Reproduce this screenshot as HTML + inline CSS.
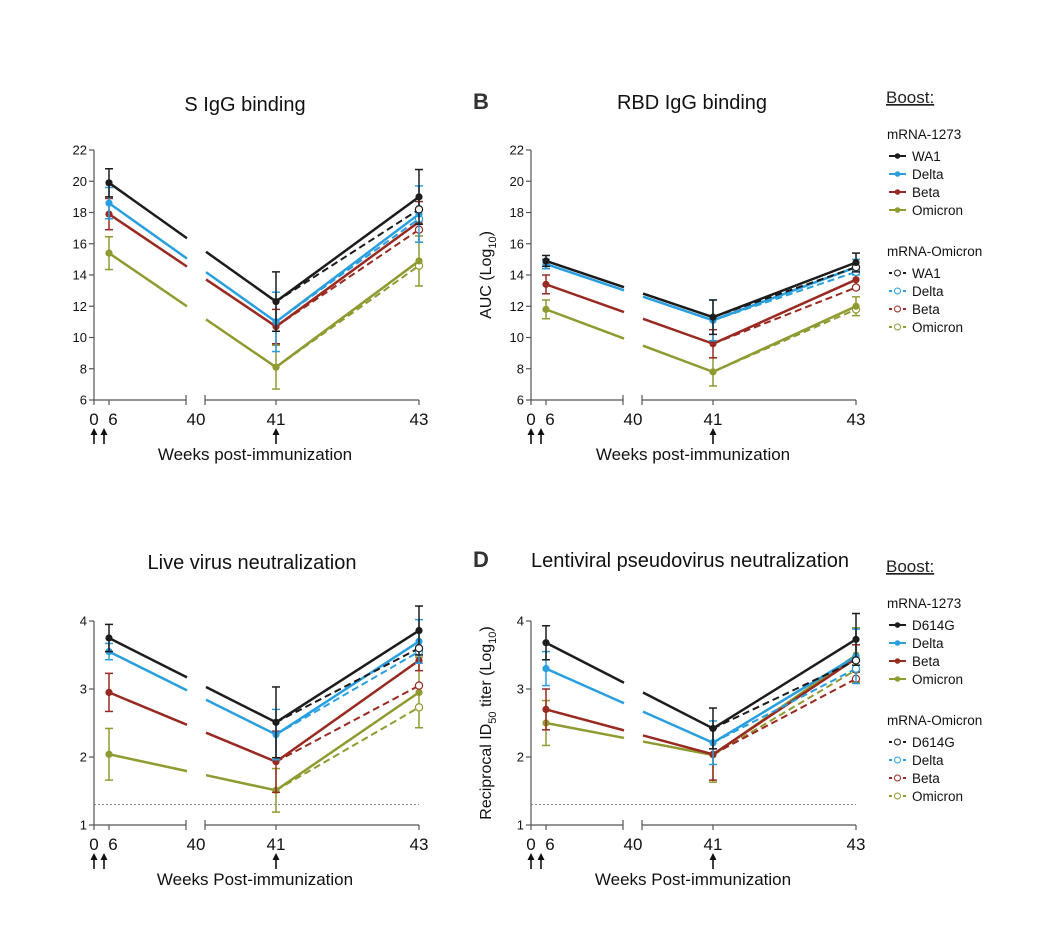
<!DOCTYPE html>
<html><head><meta charset="utf-8">
<style>
body{margin:0;background:#fff;}
svg{display:block;font-family:"Liberation Sans",Arial,sans-serif;}
</style></head>
<body>
<svg id="fig" width="1060" height="942" viewBox="0 0 1060 942"></svg>
<script>
// ---- data ----
const weeks = [6, 41, 43];
const strainsTop = ["WA1", "Delta", "Beta", "Omicron"];
const strainsBottom = ["D614G", "Delta", "Beta", "Omicron"];
const colors = ["#1c1c1c", "#2a9fe0", "#992a22", "#8f9a30"];

// Panel A: S IgG binding
const aWk6 = [19.9, 18.6, 17.9, 15.4];
const aWk41 = [12.3, 11.0, 10.7, 8.1];
const aWk43Solid = [19.0, 17.9, 17.4, 14.9];
const aWk43Dash = [18.2, 17.6, 16.9, 14.6];
const aErr6 = [0.9, 1.0, 1.0, 1.05];
const aErr41 = [1.9, 1.9, 1.1, 1.4];
const aErr43 = [1.75, 1.8, 1.3, 1.6];
// Panel B: RBD IgG binding
const bWk6 = [14.9, 14.7, 13.4, 11.8];
const bWk41 = [11.3, 11.1, 9.6, 7.8];
const bWk43Solid = [14.8, 14.5, 13.7, 12.0];
const bWk43Dash = [14.5, 14.2, 13.2, 11.8];
const bErr6 = [0.35, 0.3, 0.6, 0.6];
const bErr41 = [1.1, 1.3, 0.9, 0.9];
const bErr43 = [0.6, 0.5, 0.6, 0.6];
// Panel C: live virus neutralization
const cWk6 = [3.75, 3.55, 2.95, 2.04];
const cWk41 = [2.51, 2.33, 1.93, 1.51];
const cWk43Solid = [3.86, 3.7, 3.42, 2.95];
const cWk43Dash = [3.6, 3.55, 3.05, 2.73];
const cErr6 = [0.2, 0.12, 0.28, 0.38];
const cErr41 = [0.52, 0.37, 0.45, 0.32];
const cErr43 = [0.36, 0.32, 0.15, 0.52];
// Panel D: lentiviral pseudovirus neutralization
const dWk6 = [3.68, 3.3, 2.7, 2.5];
const dWk41 = [2.42, 2.21, 2.04, 2.03];
const dWk43Solid = [3.73, 3.48, 3.45, 3.5];
const dWk43Dash = [3.42, 3.3, 3.15, 3.28];
const dErr6 = [0.25, 0.25, 0.3, 0.33];
const dErr41 = [0.3, 0.32, 0.38, 0.4];
const dErr43 = [0.38, 0.4, 0.2, 0.4];
const yTicksAB = [6, 8, 10, 12, 14, 16, 18, 20, 22];
const yTicksCD = [1, 2, 3, 4];
const xTickLabels = ["0", "6", "40", "41", "43"];
const lodCD = 1.3;

const NS = "http://www.w3.org/2000/svg";
const svg = document.getElementById("fig");
function mk(tag, attrs, parent, text) {
  const e = document.createElementNS(NS, tag);
  for (const k in attrs) e.setAttribute(k, attrs[k]);
  if (text !== undefined) e.textContent = text;
  (parent || svg).appendChild(e);
  return e;
}

function panel(opt) {
  const g = mk("g", {});
  
  
  const x0 = opt.x0, yTop = opt.yTop, yBot = opt.yBot;
  const yMin = opt.ticks[0], yMax = opt.ticks[opt.ticks.length - 1];
  const ys = v => yBot - (v - yMin) / (yMax - yMin) * (yBot - yTop);
  const pos = {0: x0, 6: x0 + 15, 40: x0 + 92, 40.5: x0 + 111, 41: x0 + 182, 43: x0 + 325};
  const xs = w => pos[w];
  const ax = mk("g", {stroke: "#555", "stroke-width": 1.2, fill: "none"}, g);
  
  
  mk("line", {x1: x0, y1: yTop, x2: x0, y2: yBot}, ax);
  opt.ticks.forEach(t => {
    mk("line", {x1: x0 - 5, y1: ys(t), x2: x0, y2: ys(t)}, ax);
    const tl = mk("text", {x: x0 - 7, y: ys(t) + 4.5, "text-anchor": "end", "font-size": 13, fill: "#111", stroke: "none"}, g, String(t));
    
    
  });
  const xa = mk("g", {stroke: "#555", "stroke-width": 1.2, fill: "none"}, g);
  
  
  mk("line", {x1: x0, y1: yBot, x2: pos[40], y2: yBot}, xa);
  mk("line", {x1: pos[40.5], y1: yBot, x2: pos[43], y2: yBot}, xa);
  [0, 6, 41, 43].forEach(w => mk("line", {x1: xs(w), y1: yBot, x2: xs(w), y2: yBot + 5}, xa));
  mk("line", {x1: pos[40.5], y1: yBot - 5, x2: pos[40.5], y2: yBot + 5}, xa);
  mk("line", {x1: pos[40], y1: yBot - 5, x2: pos[40], y2: yBot + 5}, xa);
  const xl = [[0, xTickLabels[0]], [6, xTickLabels[1]], [40, xTickLabels[2]], [41, xTickLabels[3]], [43, xTickLabels[4]]];
  xl.forEach(([w, s]) => {
    let x = xs(w);
    if (w == 40) x = pos[40] + 10;
    if (w == 6) x = xs(6) + 4;
    const t = mk("text", {x: x, y: yBot + 25, "text-anchor": "middle", "font-size": 17, fill: "#111"}, g, s);
    
    
  });
  [pos[0], pos[0] + 10, pos[41]].forEach(x => {
    const a = mk("g", {}, g);
    
    
    mk("line", {x1: x, y1: yBot + 44, x2: x, y2: yBot + 31, stroke: "#111", "stroke-width": 1.6}, a);
    mk("path", {d: `M${x - 3.5},${yBot + 35} L${x},${yBot + 28} L${x + 3.5},${yBot + 35} Z`, fill: "#111"}, a);
  });
  const xt = mk("text", {x: opt.xTitleX, y: yBot + 60, "text-anchor": "middle", "font-size": 17, fill: "#111"}, g, opt.xTitle);
  
  
  const tt = mk("text", {x: opt.titleX, y: opt.titleY, "text-anchor": "middle", "font-size": 20, fill: "#111"}, g, opt.title);
  
  
  if (opt.letter) {
    const lt = mk("text", {x: x0 - 58, y: opt.titleY, "font-size": 22, "font-weight": "bold", fill: "#333"}, g, opt.letter);
    
    
  }
  if (opt.yTitle) {
    const cy = (yTop + yBot) / 2;
    const yt = mk("text", {x: x0 - 40, y: cy, transform: `rotate(-90 ${x0 - 40} ${cy})`, "text-anchor": "middle", "font-size": 16, fill: "#111"}, g);
    yt.innerHTML = opt.yTitle;
    
    
  }
  if (opt.lod !== undefined) {
    const l = mk("line", {x1: x0, y1: ys(opt.lod), x2: pos[43], y2: ys(opt.lod), stroke: "#666", "stroke-width": 0.8, "stroke-dasharray": "2 2"}, g);
    
    
  }
  for (let i = 3; i >= 0; i--) {
    const c = colors[i];
    const sg = mk("g", {}, g);
    
    
    [[6, opt.w6[i], opt.e6[i]], [41, opt.w41[i], opt.e41[i]], [43, opt.w43s[i], opt.e43[i]]].forEach(([w, v, e]) => {
      const x = xs(w);
      mk("line", {x1: x, y1: ys(v - e), x2: x, y2: ys(v + e), stroke: c, "stroke-width": 1.5}, sg);
      mk("line", {x1: x - 4, y1: ys(v - e), x2: x + 4, y2: ys(v - e), stroke: c, "stroke-width": 1.5}, sg);
      mk("line", {x1: x - 4, y1: ys(v + e), x2: x + 4, y2: ys(v + e), stroke: c, "stroke-width": 1.5}, sg);
    });
    mk("line", {x1: xs(41), y1: ys(opt.w41[i]), x2: xs(43), y2: ys(opt.w43d[i]), stroke: c, "stroke-width": 2, "stroke-dasharray": "7 4"}, sg);
    mk("circle", {cx: xs(43), cy: ys(opt.w43d[i]), r: 3.6, fill: "#fff", stroke: c, "stroke-width": 1.2}, sg);
    const x6 = xs(6), y6 = ys(opt.w6[i]), x41 = xs(41), y41 = ys(opt.w41[i]);
    const fy = x => y6 + (y41 - y6) * (x - x6) / (x41 - x6);
    const gA = pos[40] + 1, gB = pos[40.5] + 1;
    mk("line", {x1: x6, y1: y6, x2: gA, y2: fy(gA), stroke: c, "stroke-width": 2.5}, sg);
    mk("line", {x1: gB, y1: fy(gB), x2: x41, y2: y41, stroke: c, "stroke-width": 2.5}, sg);
    mk("line", {x1: x41, y1: y41, x2: xs(43), y2: ys(opt.w43s[i]), stroke: c, "stroke-width": 2.5}, sg);
    [[6, opt.w6[i]], [41, opt.w41[i]], [43, opt.w43s[i]]].forEach(([w, v]) => {
      const p = mk("circle", {cx: xs(w), cy: ys(v), r: 3.6, fill: c}, sg);
      
      
    });
  }
}

panel({name: "panel-a-s-igg", x0: 94, yTop: 150, yBot: 400, ticks: yTicksAB, strains: strainsTop,
  w6: aWk6, w41: aWk41, w43s: aWk43Solid, w43d: aWk43Dash, e6: aErr6, e41: aErr41, e43: aErr43,
  title: "S IgG binding", titleX: 245, titleY: 111, xTitle: "Weeks post-immunization", xTitleX: 255});
panel({name: "panel-b-rbd-igg", x0: 531, yTop: 150, yBot: 400, ticks: yTicksAB, strains: strainsTop,
  w6: bWk6, w41: bWk41, w43s: bWk43Solid, w43d: bWk43Dash, e6: bErr6, e41: bErr41, e43: bErr43,
  title: "RBD IgG binding", titleX: 692, titleY: 109, letter: "B", xTitle: "Weeks post-immunization", xTitleX: 693,
  yTitle: 'AUC (Log<tspan font-size="11" dy="5">10</tspan><tspan dy="-5">)</tspan>'});
panel({name: "panel-c-live-virus", x0: 94, yTop: 621, yBot: 825, ticks: yTicksCD, strains: strainsBottom, lod: lodCD,
  w6: cWk6, w41: cWk41, w43s: cWk43Solid, w43d: cWk43Dash, e6: cErr6, e41: cErr41, e43: cErr43,
  title: "Live virus neutralization", titleX: 252, titleY: 569, xTitle: "Weeks Post-immunization", xTitleX: 255});
panel({name: "panel-d-pseudovirus", x0: 531, yTop: 621, yBot: 825, ticks: yTicksCD, strains: strainsBottom, lod: lodCD,
  w6: dWk6, w41: dWk41, w43s: dWk43Solid, w43d: dWk43Dash, e6: dErr6, e41: dErr41, e43: dErr43,
  title: "Lentiviral pseudovirus neutralization", titleX: 690, titleY: 567, letter: "D", xTitle: "Weeks Post-immunization", xTitleX: 693,
  yTitle: 'Reciprocal ID<tspan font-size="11" dy="5">50</tspan><tspan dy="-5"> titer (Log</tspan><tspan font-size="11" dy="5">10</tspan><tspan dy="-5">)</tspan>'});

function legend(y0, names) {
  const g = mk("g", {});
  
  
  const b = mk("text", {x: 886, y: y0, "font-size": 17, fill: "#222", "text-decoration": "underline"}, g, "Boost:");
  
  
  [["mRNA-1273", y0 + 36, false], ["mRNA-Omicron", y0 + 153, true]].forEach(([hdr, hy, dash]) => {
    const h = mk("text", {x: 887, y: hy, "font-size": 13.5, fill: "#111"}, g, hdr);
    
    
    names.forEach((n, i) => {
      const ey = hy + 22 + i * 18;
      const e = mk("g", {}, g);
      
      
      if (dash) {
        mk("line", {x1: 889, y1: ey - 5, x2: 906, y2: ey - 5, stroke: colors[i], "stroke-width": 2, "stroke-dasharray": "3 11"}, e);
        mk("circle", {cx: 897.5, cy: ey - 5, r: 3, fill: "#fff", stroke: colors[i], "stroke-width": 1}, e);
      } else {
        mk("line", {x1: 889, y1: ey - 5, x2: 906, y2: ey - 5, stroke: colors[i], "stroke-width": 2}, e);
        mk("circle", {cx: 897.5, cy: ey - 5, r: 2.8, fill: colors[i]}, e);
      }
      mk("text", {x: 912, y: ey, "font-size": 13.5, fill: "#111"}, e, n);
    });
  });
}
legend(103, strainsTop);
legend(572, strainsBottom);
</script>
</body></html>
